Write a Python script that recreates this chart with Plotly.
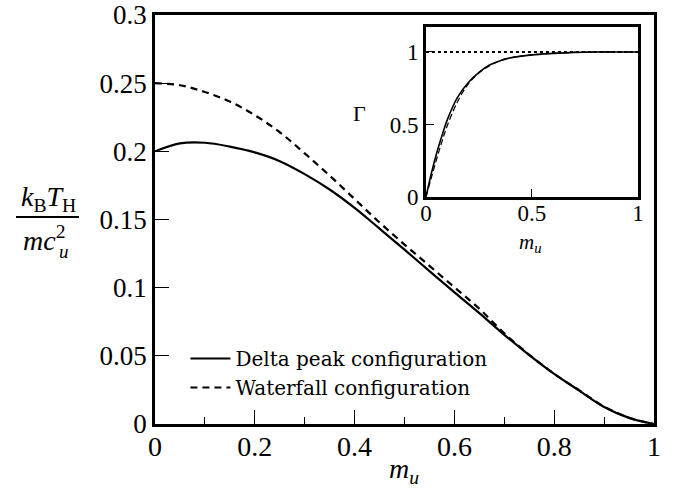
import plotly.graph_objects as go

# ---- main panel data ----
mu = [0.0, 0.05, 0.10, 0.15, 0.20, 0.25, 0.30, 0.35, 0.40, 0.45, 0.50,
      0.55, 0.60, 0.65, 0.70, 0.75, 0.80, 0.85, 0.90, 0.95, 1.0]
delta_peak = [0.2000, 0.2058, 0.2063, 0.2035, 0.1992, 0.1928, 0.1833, 0.1720, 0.1586,
              0.1433, 0.1279, 0.1121, 0.0966, 0.0813, 0.0654, 0.0506, 0.0368, 0.0245,
              0.0125, 0.0045, 0.0]
waterfall = [0.2500, 0.2485, 0.2435, 0.2365, 0.2265, 0.2140, 0.1985, 0.1822, 0.1650,
             0.1478, 0.1316, 0.1160, 0.1003, 0.0845, 0.0665, 0.0508, 0.0368, 0.0248,
             0.0128, 0.0046, 0.0]

# ---- inset data ----
mu_in = [0.0, 0.025, 0.05, 0.075, 0.10, 0.15, 0.20, 0.25, 0.30, 0.35, 0.40, 0.50,
         0.60, 0.70, 0.80, 0.90, 1.0]
gamma_delta = [0.0, 0.16, 0.30, 0.42, 0.53, 0.69, 0.79, 0.86, 0.91, 0.94, 0.96, 0.98,
               0.99, 0.997, 1.0, 1.0, 1.0]
gamma_water = [0.0, 0.13, 0.26, 0.38, 0.49, 0.66, 0.78, 0.855, 0.905, 0.94, 0.96, 0.98,
               0.99, 0.997, 1.0, 1.0, 1.0]
ref_x = [0.0, 1.0]
ref_y = [1.0, 1.0]

FONT = "Liberation Serif"

TOP = 15
BOT_PX = 424
H = BOT_PX - TOP

fig = go.Figure()
fig.add_trace(go.Scatter(x=mu, y=delta_peak, mode="lines", line_shape="spline",
                         name="Delta peak configuration",
                         line=dict(color="black", width=2.2)))
fig.add_trace(go.Scatter(x=mu, y=waterfall, mode="lines", line_shape="spline",
                         name="Waterfall configuration",
                         line=dict(color="black", width=2.2, dash="7px,5px")))
fig.add_trace(go.Scatter(x=mu_in, y=gamma_delta, mode="lines", line_shape="spline",
                         showlegend=False, xaxis="x2", yaxis="y2",
                         line=dict(color="black", width=1.6)))
fig.add_trace(go.Scatter(x=mu_in, y=gamma_water, mode="lines", line_shape="spline",
                         showlegend=False, xaxis="x2", yaxis="y2",
                         line=dict(color="black", width=1.2, dash="6px,3px")))
fig.add_trace(go.Scatter(x=ref_x, y=ref_y, mode="lines", showlegend=False,
                         xaxis="x2", yaxis="y2",
                         line=dict(color="black", width=2, dash="dot")))

axis_common = dict(showline=True, linecolor="black", linewidth=2.5, mirror=True,
                   ticks="inside", tickcolor="black", showgrid=False, zeroline=False,
                   automargin=False)

def px(x):
    return (x - 155) / 499

def py(y):
    return (BOT_PX - y) / H

fig.update_layout(
    width=680, height=493,
    margin=dict(l=155, r=26, t=TOP, b=69, autoexpand=False),
    paper_bgcolor="white", plot_bgcolor="white",
    font=dict(family=FONT, color="black"),
    xaxis=dict(range=[0, 1], tickvals=[0, 0.2, 0.4, 0.6, 0.8, 1.0],
               ticktext=["0", "0.2", "0.4", "0.6", "0.8", "1"],
               ticklen=14, tickwidth=1.3, tickfont=dict(size=28),
               minor=dict(tickvals=[0.1, 0.3, 0.5, 0.7, 0.9], ticks="inside",
                          ticklen=7, tickcolor="black", tickwidth=1.3),
               **axis_common),
    yaxis=dict(range=[0, 0.3], tickvals=[0, 0.05, 0.1, 0.15, 0.2, 0.25, 0.3],
               ticktext=["0", "0.05", "0.1", "0.15", "0.2", "0.25", "0.3"],
               ticklen=14, tickwidth=1.3, tickfont=dict(size=27),
               ticklabeloverflow="allow", **axis_common),
    xaxis2=dict(domain=[0.543, 0.968], anchor="y2", range=[0, 1],
                tickvals=[0, 0.5, 1], ticktext=["0", "0.5", "1"],
                ticklen=8, tickwidth=1.2, tickfont=dict(size=23), **axis_common),
    yaxis2=dict(domain=[py(197), py(27)], anchor="x2", range=[0, 1.172],
                tickvals=[0, 0.5, 1], ticktext=["0", "0.5", "1"],
                ticklen=8, tickwidth=1.2, tickfont=dict(size=23), **axis_common),
    legend=dict(x=0.061, y=py(339), xanchor="left", yanchor="top",
                bgcolor="rgba(0,0,0,0)", font=dict(size=20, family="DejaVu Serif"),
                itemwidth=40, tracegroupgap=0),
    showlegend=True,
)

# pull x tick labels slightly closer to their axes (if supported)
for name, val in (("xaxis2", -6), ("xaxis", -4)):
    try:
        fig.layout[name].ticklabelstandoff = val
    except (ValueError, AttributeError):
        pass

annos = [
    dict(x=px(404), y=py(470), text="<i>m</i><sub><i>u</i></sub>", font=dict(size=28)),
    dict(x=px(530), y=py(243), text="<i>m</i><sub><i>u</i></sub>", font=dict(size=21)),
    dict(x=px(359), y=py(113), text="Γ", font=dict(size=22)),
    dict(x=px(48), y=py(199), text="<i>k</i><sub>B</sub><i>T</i><sub>H</sub>", font=dict(size=28)),
    dict(x=px(44), y=py(238), text="<i>mc</i><sup>2</sup>", font=dict(size=28)),
    dict(x=px(64), y=py(251), text="<i>u</i>", font=dict(size=19)),
]
for a in annos:
    fig.add_annotation(xref="paper", yref="paper", showarrow=False,
                       xanchor="center", yanchor="middle", **a)

fig.add_shape(type="line", xref="paper", yref="paper",
              x0=px(16), x1=px(79), y0=py(217), y1=py(217),
              line=dict(color="black", width=2))

fig.write_html("out.html")
